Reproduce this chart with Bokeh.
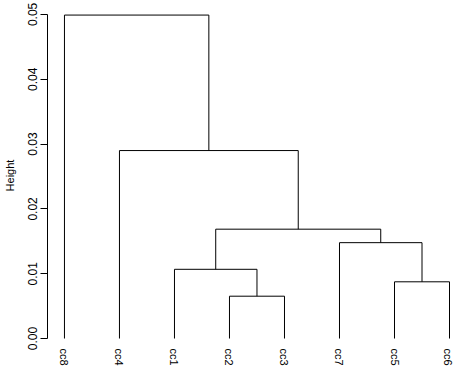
from bokeh.plotting import figure
from bokeh.models import Range1d, FixedTicker, PrintfTickFormatter, ColumnDataSource
from bokeh.embed import file_html
from bokeh.resources import INLINE

# ---- data ----
leaf_labels = ["cc8", "cc4", "cc1", "cc2", "cc3", "cc7", "cc5", "cc6"]  # plot order
# merges: (left, right, height); negative -> leaf index (1-based, into leaf_labels), positive -> earlier merge
merge_left = [-4, -7, -3, -6, 3, -2, -1]
merge_right = [-5, -8, 1, 2, 4, 5, 6]
merge_height = [0.00653, 0.00875, 0.01068, 0.01479, 0.01687, 0.0290, 0.0499]
y_ticks = [0.00, 0.01, 0.02, 0.03, 0.04, 0.05]

# ---- dendrogram geometry from merges ----
pos = {}
hgt = {}
x0, y0, x1, y1 = [], [], [], []
def node(ref):
    if ref < 0:
        return float(-ref), 0.0
    return pos[ref], hgt[ref]
for i, (a, b, h) in enumerate(zip(merge_left, merge_right, merge_height), start=1):
    xa, ha = node(a)
    xb, hb = node(b)
    # verticals
    x0 += [xa, xb]; y0 += [ha, hb]; x1 += [xa, xb]; y1 += [h, h]
    # horizontal
    x0.append(xa); y0.append(h); x1.append(xb); y1.append(h)
    pos[i] = (xa + xb) / 2.0
    hgt[i] = h
src = ColumnDataSource(dict(x0=x0, y0=y0, x1=x1, y1=y1))

# ---- layout (pixels) ----
W, H = 453, 368
fl, fr, ft, fb = 46, 452, 11, 347          # frame edges
leaf_first_px, leaf_last_px = 63, 449
top_px, zero_px = 14, 346
n = len(leaf_labels)
sx = (leaf_last_px - leaf_first_px) / (n - 1)
xr = Range1d(1 - (leaf_first_px - fl) / sx, n + (fr - leaf_last_px) / sx)
sy = (zero_px - top_px) / y_ticks[-1]
yr = Range1d(-(fb - zero_px) / sy, y_ticks[-1] + (top_px - ft) / sy)

p = figure(width=W, height=H, x_range=xr, y_range=yr, output_backend="svg",
           toolbar_location=None, min_border_left=fl, min_border_right=W - fr,
           min_border_top=ft, min_border_bottom=H - fb)
p.outline_line_color = None
p.grid.visible = False
p.background_fill_color = "white"
p.border_fill_color = "white"

p.segment("x0", "y0", "x1", "y1", source=src, line_color="black", line_width=1)

font = "Liberation Sans"
ya = p.yaxis[0]
ya.ticker = FixedTicker(ticks=y_ticks)
ya.formatter = PrintfTickFormatter(format="%.2f")
ya.bounds = (y_ticks[0], y_ticks[-1])
ya.major_tick_out = 7
ya.major_tick_in = 0
ya.minor_tick_out = 0
ya.minor_tick_in = 0
ya.major_label_orientation = "vertical"
ya.major_label_standoff = 3
ya.major_label_text_font = font
ya.major_label_text_font_size = "12px"
ya.major_label_text_color = "black"
ya.axis_label = "Height"
ya.axis_label_text_font = font
ya.axis_label_text_font_size = "11px"
ya.axis_label_text_font_style = "normal"
ya.axis_label_text_color = "black"
ya.axis_label_standoff = 10
ya.axis_line_color = "black"
ya.major_tick_line_color = "black"

xa = p.xaxis[0]
xa.ticker = FixedTicker(ticks=list(range(1, n + 1)))
xa.major_label_overrides = {i + 1: lab for i, lab in enumerate(leaf_labels)}
xa.axis_line_color = None
xa.major_tick_line_color = None
xa.minor_tick_line_color = None
xa.major_label_orientation = "vertical"
xa.major_label_standoff = 3
xa.major_label_text_font = font
xa.major_label_text_font_size = "11px"
xa.major_label_text_color = "black"

open("out.html", "w").write(file_html(p, INLINE))
